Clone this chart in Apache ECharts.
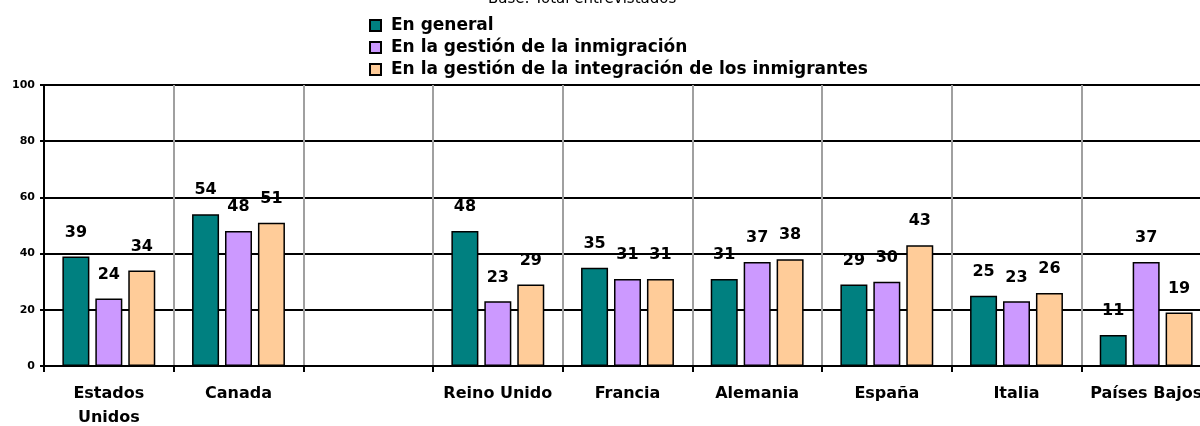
<!DOCTYPE html>
<html>
<head>
<meta charset="utf-8">
<script src="https://cdn.jsdelivr.net/npm/echarts@6/dist/echarts.min.js"></script>
<style>
  html, body { margin: 0; padding: 0; background: #fff; }
  #chart { width: 1200px; height: 426px; }
</style>
</head>
<body>
<div id="chart"></div>
<script>
// datos
var categories = ['Estados\nUnidos', 'Canada', '', 'Reino Unido', 'Francia', 'Alemania', 'España', 'Italia', 'Países Bajos'];
var seriesNames = ['En general', 'En la gestión de la inmigración', 'En la gestión de la integración de los inmigrantes'];
var enGeneral = [39, 54, '-', 48, 35, 31, 29, 25, 11];
var gestionInmigracion = [24, 48, '-', 23, 31, 37, 30, 23, 37];
var gestionIntegracion = [34, 51, '-', 29, 31, 38, 43, 26, 19];
var yTicks = [0, 20, 40, 60, 80, 100];

var colors = ['#008080', '#CC99FF', '#FFCC99'];
var font = '"DejaVu Sans", Verdana, sans-serif';

function makeSeries(name, data, i) {
    return {
        name: name,
        type: 'bar',
        data: data,
        barWidth: 27,
        barGap: '22%',
        itemStyle: {
            color: colors[i],
            borderColor: '#000',
            borderWidth: 1.5
        },
        label: {
            show: true,
            position: 'top',
            distance: 16,
            color: '#000',
            fontFamily: font,
            fontWeight: 'bold',
            fontSize: 16
        }
    };
}

var chart = echarts.init(document.getElementById('chart'), null, { renderer: 'canvas' });
chart.setOption({
    animation: false,
    title: {
        text: 'Base: Total entrevistados',
        left: 483,
        top: -13,
        textStyle: { fontFamily: font, fontSize: 15, fontWeight: 'normal', color: '#000' }
    },
    legend: {
        orient: 'vertical',
        left: 364,
        top: 12,
        itemWidth: 11,
        itemHeight: 11,
        itemGap: 5,
        icon: 'rect',
        data: seriesNames,
        textStyle: {
            fontFamily: font, fontSize: 17, fontWeight: 'bold', color: '#000',
            padding: [0, 0, 0, 5]
        }
    },
    grid: {
        left: 44,
        right: -11,
        top: 85,
        bottom: 60,
        outerBoundsMode: 'none',
        containLabel: false
    },
    xAxis: {
        type: 'category',
        data: categories,
        axisLine: { lineStyle: { color: '#000', width: 2 } },
        axisTick: { show: true, length: 6, lineStyle: { color: '#000', width: 2 } },
        splitLine: { show: true, lineStyle: { color: '#a0a0a0', width: 2 } },
        axisLabel: {
            color: '#000',
            fontFamily: font,
            fontWeight: 'bold',
            fontSize: 16,
            lineHeight: 24,
            margin: 16,
            interval: 0
        }
    },
    yAxis: {
        type: 'value',
        min: yTicks[0],
        max: yTicks[yTicks.length - 1],
        interval: 20,
        axisLine: { show: true, lineStyle: { color: '#000', width: 2 } },
        axisTick: { show: true, length: 4, lineStyle: { color: '#000', width: 2 } },
        splitLine: { show: true, lineStyle: { color: '#000', width: 2 } },
        axisLabel: {
            color: '#000',
            fontFamily: font,
            fontWeight: 'bold',
            fontSize: 11,
            margin: 9
        }
    },
    series: [
        makeSeries(seriesNames[0], enGeneral, 0),
        makeSeries(seriesNames[1], gestionInmigracion, 1),
        makeSeries(seriesNames[2], gestionIntegracion, 2)
    ]
});
</script>
</body>
</html>
